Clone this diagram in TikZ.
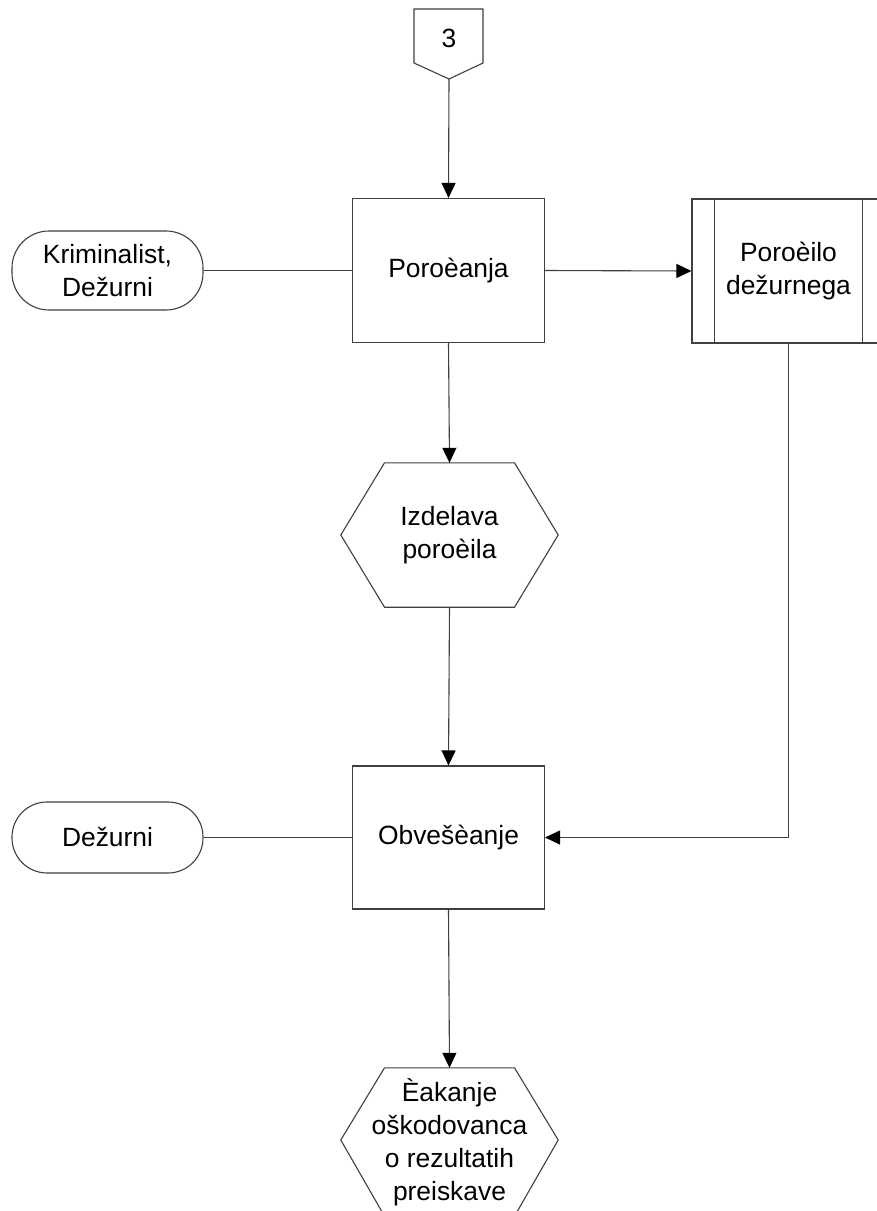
\documentclass[tikz,border=0pt]{standalone}
\usepackage{fontspec}
\setmainfont{Liberation Sans}
\usetikzlibrary{arrows.meta,calc}

\tikzset{
  ln/.style={draw=black!75, line width=1.1bp},
  arr/.style={ln, -{Triangle[length=15bp,width=14bp,color=black]}},
  txt/.style={font=\fontsize{26.5}{33}\selectfont, align=center, text=black},
  procbox/.style={txt, ln, rectangle, minimum width=192bp, minimum height=144bp, inner sep=0pt},
  termbox/.style={txt, ln, rectangle, rounded corners=37bp, minimum width=191bp, inner sep=0pt},
  hexbox/.style={txt, rectangle, minimum width=217bp, inner sep=0pt},
}

\begin{document}
\begin{tikzpicture}[x=1bp,y=-1bp]
  \useasboundingbox (0,0) rectangle (877,1211);
  \clip (0,0) rectangle (877,1211);
  \fill[white] (0,0) rectangle (877,1211);

  % off-page connector "3"
  \node[txt] (c3) at (449,38) {3};
  \coordinate (c3b) at (449,79);
  \draw[ln] (414,9) -- (483,9) -- (483,63) -- (c3b) -- (414,63) -- cycle;

  % main processes
  \node[procbox] (por) at (448.5,270.5) {Poroèanja};
  \node[procbox, minimum height=143bp] (obv) at (448.5,837.5) {Obvešèanje};

  % participants
  \node[termbox, minimum height=79bp] (krim) at (107.5,270.5) {Kriminalist,\\Dežurni};
  \node[termbox, minimum height=71bp, rounded corners=35bp] (dez) at (107.5,837.5) {Dežurni};

  % predefined process (document)
  \node[procbox, minimum width=193bp] (pd) at (788.5,271) {Poroèilo\\dežurnega};
  \draw[ln] ($(pd.north west)+(23,0)$) -- ($(pd.south west)+(23,0)$);
  \draw[ln] ($(pd.north east)+(-23,0)$) -- ($(pd.south east)+(-23,0)$);

  % preparation steps (hexagons)
  \node[hexbox, minimum height=144bp] (izd) at (449.5,535) {Izdelava\\poroèila};
  \draw[ln] ($(izd.west)$) -- ($(izd.north)+(-65,0)$) -- ($(izd.north)+(65,0)$)
    -- (izd.east) -- ($(izd.south)+(65,0)$) -- ($(izd.south)+(-65,0)$) -- cycle;

  \node[hexbox, minimum height=148bp] (cak) at (449.5,1142) {Èakanje\\oškodovanca\\o rezultatih\\preiskave};
  \draw[ln] ($(cak.west)+(0,-2)$) -- ($(cak.north)+(-65,0)$) -- ($(cak.north)+(65,0)$)
    -- ($(cak.east)+(0,-2)$) -- ($(cak.south)+(65,0)$) -- ($(cak.south)+(-65,0)$) -- cycle;

  % connectors
  \draw[arr] (c3b) -- (por.north);
  \draw[ln] (krim.east) -- (por.west);
  \draw[arr] (por.east) -- (pd.west);
  \draw[arr] (por.south) -- (izd.north);
  \draw[arr] (izd.south) -- (obv.north);
  \draw[ln] (dez.east) -- (obv.west);
  \draw[arr] (pd.south) |- (obv.east);
  \draw[arr] (obv.south) -- (cak.north);
\end{tikzpicture}
\end{document}
